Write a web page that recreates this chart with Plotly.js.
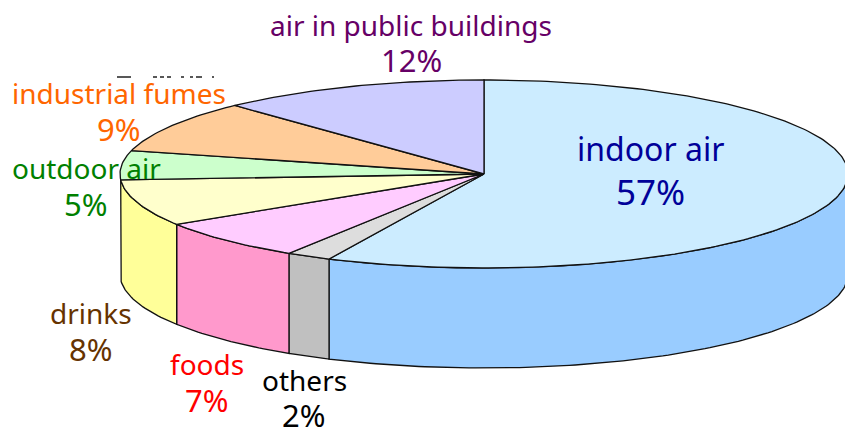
<!DOCTYPE html>
<html><head><meta charset="utf-8">
<script src="https://cdn.plot.ly/plotly-3.0.1.min.js"></script>
<style>html,body{margin:0;padding:0;background:#fff;overflow:hidden}#c{width:845px;height:430px}</style>
</head><body><div id="c"></div>
<script>
const categories = ["indoor air","others","foods","drinks","outdoor air","industrial fumes","air in public buildings"];
const values = [57,2,7,8,5,9,12];
const topColors = ["#CCECFF","#DDDDDD","#FFCCFF","#FFFFCC","#CCFFCC","#FFCC99","#CCCCFF"];
const wallColors = ["#99CCFF","#C0C0C0","#FF99CC","#FFFF99",null,null,null];
const textColors = ["#000099","#000000","#FF0000","#663300","#008000","#FF6600","#660066"];
const labelX = [650,304,207,91,86,119,411];
const nameY = [148,380,364,313,168,93,25];
const pctY = [191,415,400,349,204,129,60];
const nameSize = [32,28,28,28,28,28,28];
const pctSize = [35,31,31,31,31,31,31];

const CX=484, CY=174, RX=364, RY=94, DEPTH=100;
const FONT='"Noto Sans", Tahoma, sans-serif';
const rad=d=>d*Math.PI/180;
const px=t=>CX+RX*Math.sin(rad(t));
const py=(t,dz)=>CY-RY*Math.cos(rad(t))+(dz||0);
const traces=[];
const total=values.reduce((a,b)=>a+b,0);
let start=0; const spans=values.map(v=>{const s=[start,start+v/total*360];start=s[1];return s;});
function arc(a,b,dz){const n=Math.max(2,Math.ceil(Math.abs(b-a)));const xs=[],ys=[];
  for(let i=0;i<=n;i++){const t=a+(b-a)*i/n;xs.push(px(t));ys.push(py(t,dz));}return [xs,ys];}
const LINE={color:'#111',width:1.3};
spans.forEach(([a,b],i)=>{
  const lo=Math.max(a,90),hi=Math.min(b,270);
  if(hi>lo&&wallColors[i]){
    const [x1,y1]=arc(lo,hi,0),[x2,y2]=arc(hi,lo,DEPTH);
    traces.push({type:'scatter',mode:'lines',x:[...x1,...x2,x1[0]],y:[...y1,...y2,y1[0]],fill:'toself',fillcolor:wallColors[i],line:LINE,hoverinfo:'skip',showlegend:false});
  }
});
spans.forEach(([a,b],i)=>{
  const [x1,y1]=arc(a,b,0);
  traces.push({type:'scatter',mode:'lines',name:categories[i],x:[CX,...x1,CX],y:[CY,...y1,CY],fill:'toself',fillcolor:topColors[i],line:LINE,hoverinfo:'skip',showlegend:false});
});
const annotations=[];
categories.forEach((c,i)=>{
  [[c,nameY[i],nameSize[i]],[values[i]+'%',pctY[i],pctSize[i]]].forEach(([t,y,s])=>annotations.push({x:labelX[i],y:y,xref:'x',yref:'y',text:t,showarrow:false,xanchor:'center',yanchor:'middle',font:{family:FONT,size:s,color:textColors[i]}}));
});
const shapes=[{type:'line',xref:'x',yref:'y',x0:117,x1:214,y0:77,y1:77,line:{color:'#222',width:1.5,dash:'14px,22px,4px,3px,4px,3px,4px,10px,3px,6px,3px,3px,6px,10px'}}];
Plotly.newPlot('c',traces,{width:845,height:430,margin:{l:0,r:0,t:0,b:0},paper_bgcolor:'#fff',plot_bgcolor:'#fff',
 xaxis:{range:[0,845],visible:false,fixedrange:true},yaxis:{range:[430,0],visible:false,fixedrange:true},annotations:annotations,shapes:shapes,showlegend:false},{displayModeBar:false,staticPlot:true});
</script></body></html>
